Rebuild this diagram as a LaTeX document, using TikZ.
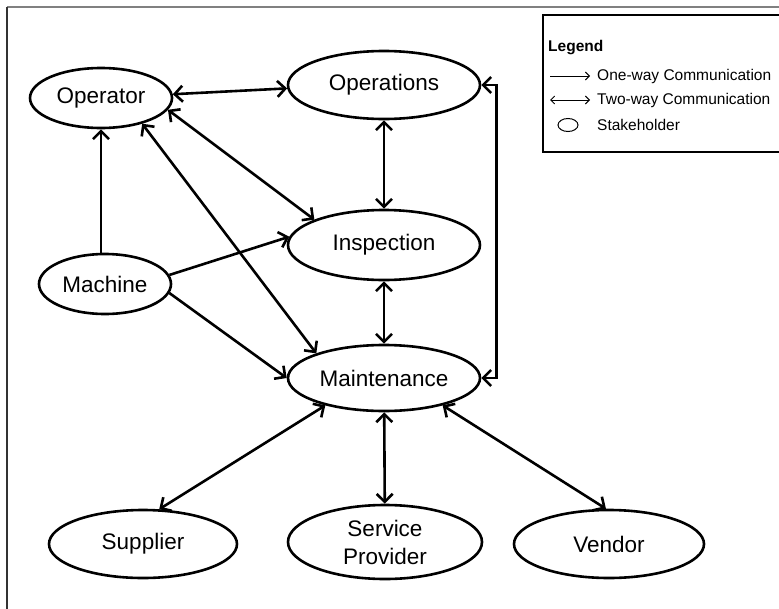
\documentclass[tikz,border=0pt]{standalone}
\usepackage{fontspec}
\setmainfont{Liberation Sans}
\usetikzlibrary{arrows.meta,shapes.geometric}

\tikzset{
  tip/.tip={Straight Barb[length=8pt,width=16pt,line width=2.6pt]},
  smalltip/.tip={Straight Barb[length=4pt,width=8pt,line width=0.9pt]},
  stake/.style={ellipse, draw, line width=2.6pt, inner sep=0pt,
    font=\fontsize{22.5}{28}\selectfont, align=center},
  oneway/.style={line width=2.6pt, -tip},
  twoway/.style={line width=2.6pt, tip-tip},
  legendtext/.style={anchor=west, inner sep=0pt, font=\fontsize{15.5}{18}\selectfont},
}

\begin{document}
\begin{tikzpicture}[x=1pt,y=-1pt]
  \useasboundingbox (0,0) rectangle (779,608);

  % outer frame
  \draw[line width=1.5pt, black!50] (7,7) -- (790,7);
  \draw[line width=1.5pt, black!80] (7,7) -- (7,620);

  % legend
  \draw[line width=1.6pt] (790,15) -- (543,15) -- (543,152) -- (790,152);
  \node[legendtext, font=\fontsize{15.5}{18}\selectfont\bfseries] (lgtitle) at (548,48) {Legend};
  \coordinate (l1a) at (550,76);
  \coordinate (l1b) at (590,76);
  \coordinate (l2a) at (550,100);
  \coordinate (l2b) at (590,100);
  \draw[line width=0.9pt, -smalltip] (l1a) -- (l1b);
  \draw[line width=0.9pt, smalltip-smalltip] (l2a) -- (l2b);
  \node[ellipse, draw, line width=1pt, minimum width=20pt, minimum height=13pt, inner sep=0pt] (lgell) at (568,125) {};
  \node[legendtext] (lg1) at (597,76) {One-way Communication};
  \node[legendtext] (lg2) at (597,100) {Two-way Communication};
  \node[legendtext] (lg3) at (597,125) {Stakeholder};

  % stakeholders
  \node[stake, minimum width=142pt, minimum height=60pt] (op)  at (101,98)  {Operator};
  \node[stake, minimum width=192pt, minimum height=68pt] (ops) at (384,85)  {Operations};
  \node[stake, minimum width=192pt, minimum height=70pt] (ins) at (384,245) {Inspection};
  \node[stake, minimum width=132pt, minimum height=60pt] (mac) at (105,284) {Machine};
  \node[stake, minimum width=192pt, minimum height=66pt] (mnt) at (384,378) {Maintenance};
  \node[stake, minimum width=188pt, minimum height=68pt] (sup) at (143,544) {Supplier};
  \node[stake, minimum width=194pt, minimum height=74pt] (svc) at (385,542) {Service\\Provider};
  \node[stake, minimum width=190pt, minimum height=68pt] (ven) at (609,544) {Vendor};

  % communication links
  \draw[twoway] (op.3) -- (ops.182);
  \draw[twoway] (op.-10) -- (ins.160);
  \draw[twoway] (op.-32) -- (mnt.160);
  \draw[oneway] (op.south |- mac.north) -- (op.south);
  \draw[oneway] (mac.8) -- (ins.175);
  \draw[oneway] (mac.-8) -- (mnt.180);
  \draw[twoway] (ops) -- (ins);
  \draw[twoway] (ins) -- (mnt);
  \draw[twoway] (ops.east) -- ++(15,0) |- (mnt.east);
  \draw[twoway] (mnt.-155) -- (sup.65);
  \draw[twoway] (mnt) -- (svc);
  \draw[twoway] (mnt.-25) -- (ven.95);
\end{tikzpicture}
\end{document}
